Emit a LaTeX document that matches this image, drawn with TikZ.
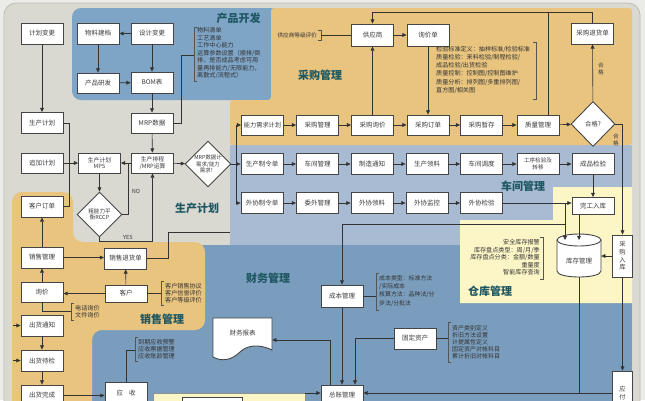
\documentclass[tikz,border=0pt]{standalone}
\usepackage{fontspec}
\newfontfamily\cjk{Noto Sans CJK SC}
\usetikzlibrary{shapes.geometric,arrows.meta}
\definecolor{pagebg}{HTML}{EBEBE7}
\definecolor{mainbg}{HTML}{D9D9D2}
\definecolor{framec}{HTML}{BDBDB5}
\definecolor{prodblue}{HTML}{7EA4C6}
\definecolor{tanc}{HTML}{E8C47F}
\definecolor{shopblue}{HTML}{A8BBD3}
\definecolor{finblue}{HTML}{7A9DBD}
\definecolor{whyellow}{HTML}{FCF6C6}
\definecolor{boxline}{HTML}{454545}
\definecolor{boxtxt}{HTML}{3A3A3A}
\definecolor{conn}{HTML}{333333}
\definecolor{notetxt}{HTML}{333333}
\definecolor{ttlc}{HTML}{1E5762}
\definecolor{brkc}{HTML}{555555}
\begin{document}
\begin{tikzpicture}[x=1pt,y=-1pt,
  bx/.style={draw=boxline, fill=white, line width=0.9pt, minimum width=42pt, minimum height=21pt,
    inner sep=0.5pt, align=center, text=boxtxt, font=\cjk\fontsize{6.5}{7.4}\selectfont},
  dia/.style={diamond, aspect=1, draw=boxline, fill=white, line width=0.9pt, inner sep=0pt,
    align=center, text=boxtxt, font=\cjk\fontsize{5.4}{6.3}\selectfont},
  arr/.style={draw=conn, line width=0.6pt, -{Triangle[length=4.2pt,width=3.8pt]}},
  ln/.style={draw=conn, line width=0.6pt},
  brk/.style={draw=brkc, line width=0.5pt},
  notetext/.style={inner sep=0pt, align=left, text=notetxt, font=\cjk\fontsize{6.1}{7.5}\selectfont},
  ttl/.style={inner sep=0pt, text=ttlc, font=\cjk\bfseries\fontsize{11}{12}\selectfont},
  lbl/.style={inner sep=0pt, align=center, text=boxtxt, font=\cjk\fontsize{5.6}{6.4}\selectfont}
]
\useasboundingbox (0,0) rectangle (645,400);
% ---------- background and regions
\fill[pagebg] (0,0) rectangle (645,400);
\draw[fill=mainbg, draw=framec, line width=0.8pt, rounded corners=12] (4,3) rectangle (640,430);
\fill[finblue] (92,245) rectangle (632,430);
\fill[shopblue] (230,145) rectangle (632,245);
\fill[whyellow] (553,187) -- (632,187) -- (632,303) -- (460,303) -- (460,220) -- (553,220) -- cycle;
\fill[prodblue, rounded corners=9] (72,8) rectangle (290,100);
\fill[tanc, rounded corners=3] (271,8) -- (632,8) -- (632,145) -- (230,145) -- (230,100) -- (271,100) -- cycle;
\fill[tanc, rounded corners=10] (12,192) -- (73,192) -- (73,242) -- (205,242) -- (205,330) -- (92,330) -- (92,430) -- (12,430) -- cycle;
% bottom yellow strip
\draw[fill=whyellow, draw=boxline!60, line width=0.6pt] (153,393) rectangle (305,412);
\draw[fill=white, draw=boxline, line width=0.9pt] (182,397) rectangle (242,412);

% ---------- titles
\node[ttl] (t1) at (238.5,18) {产品开发};
\node[ttl] (t2) at (320,75) {采购管理};
\node[ttl] (t3) at (197,208) {生产计划};
\node[ttl] (t4) at (523,186) {车间管理};
\node[ttl] (t5) at (490,291) {仓库管理};
\node[ttl] (t6) at (268,278) {财务管理};
\node[ttl] (t7) at (162,319) {销售管理};

% ---------- left column
\node[bx] (jhbg) at (42,33.5) {计划变更};
\node[bx] (scjh) at (42,123) {生产计划};
\node[bx, minimum height=20pt] (zjjh) at (42,163) {追加计划};
\node[bx] (khdd) at (42,206.5) {客户订单};
\node[bx] (xsgl) at (42,257.5) {销售管理};
\node[bx, minimum height=20pt] (xj) at (42,292) {询价};
\node[bx] (chtz) at (42,325.5) {出货通知};
\node[bx] (chdj) at (42,360.5) {出货待检};
\node[bx] (chwc) at (42,395.5) {出货完成};

% ---------- product development / planning
\node[bx] (wljd) at (98,33.5) {物料建档};
\node[bx] (sjbg) at (152,33.5) {设计变更};
\node[bx, minimum height=20pt] (cpyf) at (98,83) {产品研发};
\node[bx] (bom) at (152,82.5) {BOM表};
\node[bx, minimum height=20pt] (mrpsj) at (152,123) {MRP数据};
\node[bx, minimum height=20pt, font=\cjk\fontsize{5.8}{6.8}\selectfont] (mps) at (99.5,163) {生产计划\\MPS};
\node[bx, minimum height=20pt, font=\cjk\fontsize{5.8}{6.8}\selectfont] (scpc) at (152.5,163) {生产排程\\/MRP运算};
\node[dia, minimum width=46pt, minimum height=46pt] (mrpd) at (208,164) {MRP数据计\\需求/能力\\需求！};
\node[dia, minimum width=45pt, minimum height=45pt, font=\cjk\fontsize{5.6}{6.6}\selectfont] (rccp) at (99.5,214.5) {粗能力平\\衡RCCP};

% ---------- sales
\node[bx] (xsthd) at (125.5,258.5) {销售退货单};
\node[bx, minimum height=17pt] (kh) at (126,293.5) {客户};
\node[bx, minimum height=22pt] (ys) at (126,393) {应\hspace{6pt}收};

% ---------- purchasing
\node[bx, minimum height=22pt] (gys) at (372.5,35) {供应商};
\node[bx, minimum height=22pt] (xjd) at (428,35) {询价单};
\node[bx] (cgthd) at (592.5,33.5) {采购退货单};
\node[bx, minimum height=20pt, font=\cjk\fontsize{6.2}{7.2}\selectfont] (nlxq) at (262.5,125) {能力需求计划};
\node[bx, minimum height=20pt] (cggl) at (317.5,125) {采购管理};
\node[bx, minimum height=20pt] (cgxj) at (372.5,125) {采购询价};
\node[bx, minimum height=20pt] (cgdd) at (428,125) {采购订单};
\node[bx, minimum height=20pt] (cgzc) at (481.5,125) {采购暂存};
\node[bx, minimum height=20pt] (zlgl) at (538,125) {质量管理};
\node[dia, minimum width=44pt, minimum height=45pt, font=\cjk\fontsize{6.3}{7}\selectfont] (hg) at (593,124) {合格?};

% ---------- workshop
\node[bx] (sczld) at (262,164) {生产制令单};
\node[bx] (cjgl) at (317.5,164) {车间管理};
\node[bx] (zztz) at (372,164) {制造通知};
\node[bx] (scll) at (427,164) {生产领料};
\node[bx] (cjdd) at (481.5,164) {车间调度};
\node[bx, font=\cjk\fontsize{5.6}{6.6}\selectfont] (gxjy) at (538,164) {工序检验及\\转移};
\node[bx] (cpjy) at (593,164) {成品检验};
\node[bx] (wxzld) at (262,203) {外协制令单};
\node[bx] (wwgl) at (317.5,203) {委外管理};
\node[bx] (wxll) at (372,203) {外协领料};
\node[bx] (wxjk) at (427,203) {外协监控};
\node[bx] (wxjy) at (481.5,203) {外协检验};
\node[bx, minimum height=17pt] (wgrk) at (593,206) {完工入库};

% ---------- warehouse
\fill[white] (557,240) rectangle (601,271);
\filldraw[fill=white, draw=boxline, line width=0.9pt] (557,240) -- (557,271) .. controls (557,279) and (601,279) .. (601,271) -- (601,240) -- cycle;
\draw[fill=white, draw=boxline, line width=0.9pt] (579,240) ellipse [x radius=22, y radius=6];
\node[minimum width=44pt, minimum height=43pt, inner sep=0pt] (kcgl) at (579,255.5) {};
\node[lbl, font=\cjk\fontsize{6.5}{7.4}\selectfont] (kcglt) at (579,261) {库存管理};
\node[bx, minimum width=20pt, minimum height=42pt, font=\cjk\fontsize{6.3}{7.6}\selectfont] (cgrk) at (622.5,256) {采\\购\\入\\库};
\node[bx, minimum width=20pt, minimum height=44pt, font=\cjk\fontsize{6.2}{7.4}\selectfont] (yf) at (622.5,393) {应\\付};

% ---------- finance
\node[bx, minimum height=22pt] (cbgl) at (342,296) {成本管理};
\node[bx] (gdzc) at (415,338.5) {固定资产};
\node[bx, minimum height=20pt] (zzgl) at (342,395) {总账管理};
\filldraw[fill=white, draw=boxline, line width=0.9pt] (213,318) -- (272,318) -- (272,350) .. controls (258,343) and (246,346) .. (240,352) .. controls (232,360) and (222,362) .. (213,357) -- cycle;
\node[minimum width=59pt, minimum height=42pt, inner sep=0pt] (cwbb) at (242.5,339) {};
\node[lbl, font=\cjk\fontsize{6.5}{7.4}\selectfont] (cwbbt) at (242.5,333) {财务报表};

% ---------- notes
\node[notetext, anchor=north west] (n1) at (197,27.5) {物料清单\\工艺清单\\工作中心能力\\运算参数设置（顺排/倒\\排，是否成品考虑可用\\量再排能力/无限能力，\\离散式/流程式）};
\draw[brk] (197,27) -- (194,27) -- (194,81) -- (197,81);
\node[notetext, anchor=east, font=\cjk\fontsize{5.6}{6.5}\selectfont] (n2) at (317,35) {供应商等级评价};
\draw[brk] (318,30) -- (321,30) -- (321,40) -- (318,40);
\node[notetext, anchor=north west, font=\cjk\fontsize{6.1}{8.2}\selectfont] (n3) at (436,46) {检验标准定义：抽样标准/检验标准\\质量检验：来料检验/制程检验/\\成品检验/出货检验\\质量控制：控制图/控制图维护\\质量分析：排列图/多重排列图/\\直方图/相关图};
\draw[brk] (533,42) -- (536,42) -- (536,99) -- (533,99);
\node[notetext, anchor=north east, align=right] (n4) at (540,239.5) {安全库存报警\\库存盘点类型：周/月/季\\库存盘点分类：金额/数量\\重量度\\智能库存查询};
\draw[brk] (540,237) -- (543,237) -- (543,279) -- (540,279);
\node[notetext, anchor=north west, font=\cjk\fontsize{6.1}{7.2}\selectfont] (n5) at (165,283) {客户销售协议\\客户信誉评价\\客户等级评价};
\draw[brk] (164,281) -- (161,281) -- (161,305) -- (164,305);
\node[notetext, anchor=north west, font=\cjk\fontsize{6.1}{7}\selectfont] (n6) at (75,305) {电话询价\\文件询价};
\draw[brk] (74,303) -- (71,303) -- (71,320) -- (74,320);
\node[notetext, anchor=north west, font=\cjk\fontsize{6.1}{7}\selectfont] (n7) at (138,339) {到期应收预警\\应收票据管理\\应收账龄管理};
\draw[brk] (138,337) -- (135,337) -- (135,361) -- (138,361);
\node[notetext, anchor=north west, font=\cjk\fontsize{5.9}{8.3}\selectfont] (n8) at (379,275) {成本类型：标准方法\\/实际成本\\核算方法：品种法/分\\步法/分批法};
\draw[brk] (379,273) -- (376,273) -- (376,310) -- (379,310);
\node[notetext, anchor=north west, font=\cjk\fontsize{6}{7.1}\selectfont] (n9) at (452,325) {资产类别定义\\折旧方法设置\\计提属性定义\\固定资产对帐科目\\累计折旧对帐科目};
\draw[brk] (451,322) -- (448,322) -- (448,362) -- (451,362);

% ---------- labels
\node[lbl] (lno) at (136,191) {NO};
\node[lbl] (lyes) at (128,237) {YES};
\node[lbl] (lhg1) at (601,69) {合\\格};
\node[lbl] (lhg2) at (616,140) {合\\格};

% ---------- coordinates
\coordinate (c69) at (69,163);
\coordinate (cno) at (128,163);
\coordinate (cy) at (0,241);
\coordinate (br) at (236,164);
\coordinate (tl1) at (372.5,12);
\coordinate (tl2) at (592.5,12);
\coordinate (q1) at (548,12);
\coordinate (k1) at (565,203);
\coordinate (k2) at (565,224);
\coordinate (ktop) at (565,240);
\coordinate (kt2) at (579,240);
\coordinate (kb) at (579,277);
\coordinate (g1) at (355,0);
\coordinate (f1) at (330,0);
\coordinate (f2) at (0,340);
\coordinate (yb) at (305,393);
\coordinate (s1) at (168,232);
\coordinate (s2) at (230,232);
\coordinate (l1) at (13,325.5);
\coordinate (l2) at (13,360.5);
\coordinate (pn) at (181,55);
\coordinate (pb) at (194,55);
\coordinate (yb2) at (126,350);
\coordinate (yb3) at (135,350);
\coordinate (xb) at (71,311.5);

% ---------- connectors: planning
\draw[arr] (jhbg) -- (scjh);
\draw[arr] (sjbg) -- (wljd);
\draw[arr] (wljd) -- (cpyf);
\draw[arr] (sjbg) -- (bom);
\draw[arr] (cpyf) -- (bom);
\draw[arr] (bom) -- (mrpsj);
\draw[arr] (mrpsj) -- (scpc);
\draw[arr] (scpc) -- (mps);
\draw[arr] (zjjh) -- (mps);
\draw[ln] (scjh.east) -| (c69);
\draw[ln] (khdd.east) -| (c69);
\draw[arr] (mps) -- (rccp);
\draw[ln] (rccp.east) -| (cno);
\draw[arr] (rccp.south) -- (rccp.south |- cy) -- (scpc.south |- cy) -- (scpc.south);
\draw[arr] (scpc) -- (mrpd);
\draw[ln] (mrpsj.east) -| (pn) -- (pb);
\draw[arr] (mrpd.east) -- (sczld.west);
\draw[arr] (br) |- (nlxq.west);
\draw[arr] (br) |- (wxzld.west);

% rows
\foreach \a/\b in {nlxq/cggl,cggl/cgxj,cgxj/cgdd,cgdd/cgzc,cgzc/zlgl,zlgl/hg,
  sczld/cjgl,cjgl/zztz,zztz/scll,scll/cjdd,cjdd/gxjy,gxjy/cpjy,
  wxzld/wwgl,wwgl/wxll,wxll/wxjk,wxjk/wxjy}
  \draw[arr] (\a) -- (\b);

% purchasing
\draw[arr] (hg) -- (cgthd);
\draw[arr] (cgthd.north) -- (tl2) -- (tl1) -- (gys.north);
\draw[ln] (zlgl.north -| q1) -- (q1);
\draw[arr] (hg.east) -| (cgrk.north);
\draw[arr] (cgxj) -- (gys);
\draw[arr] (gys) -- (xjd);
\draw[arr] (xjd) -- (cgdd);
\draw[ln] (n2.east -| 321,0) -- (gys.west);

% workshop / warehouse
\draw[arr] (cpjy) -- (wgrk);
\draw[arr] (wxjy.east) -- (wxjy.east -| wgrk.west);
\draw[arr] (k1) -- (ktop);
\draw[arr] (k2) -| (cbgl.north);
\draw[arr] (wgrk.south -| kt2) -- (kt2);
\draw[arr] (cgrk.west) -- (cgrk.west -| kcgl.east);
\draw[arr] (cgrk) -- (yf);
\draw[ln] (kb) -- (kb |- yf.west);
\draw[arr] (yf.west) -- (yf.west -| zzgl.east);

% finance
\draw[arr] (cbgl) -- (zzgl);
\draw[ln] (cbgl.east) -- (cbgl.east -| 376,0);
\draw[ln] (gdzc.east) -- (gdzc.east -| 448,0);
\draw[arr] (gdzc.west) -| (zzgl.north -| g1);
\draw[arr] (zzgl.north -| f1) |- (cwbb.east |- f2);
\draw[arr] (yb) -- (yb -| zzgl.west);

% sales
\draw[arr] (xsgl) -- (khdd);
\draw[arr] (xj) -- (xsgl);
\draw[arr] (kh.west) -- (kh.west -| xj.east);
\draw[arr] (xsgl.east) -- (xsgl.east -| xsthd.west);
\draw[arr] (kh) -- (xsthd);
\draw[ln] (xsthd.east) -| (s1) -- (s2);
\draw[ln] (kh.east) -- (kh.east -| 161,0);
\draw[ln] (xj.south) |- (xb);
\draw[arr] (chtz) -- (chdj);
\draw[arr] (chdj) -- (chwc);
\draw[arr] (l1) -- (chtz.west);
\draw[arr] (l2) -- (chdj.west);
\draw[arr] (chwc.east) -- (chwc.east -| ys.west);
\draw[ln] (yb3) -- (yb2) -- (ys.north);
\end{tikzpicture}
\end{document}
